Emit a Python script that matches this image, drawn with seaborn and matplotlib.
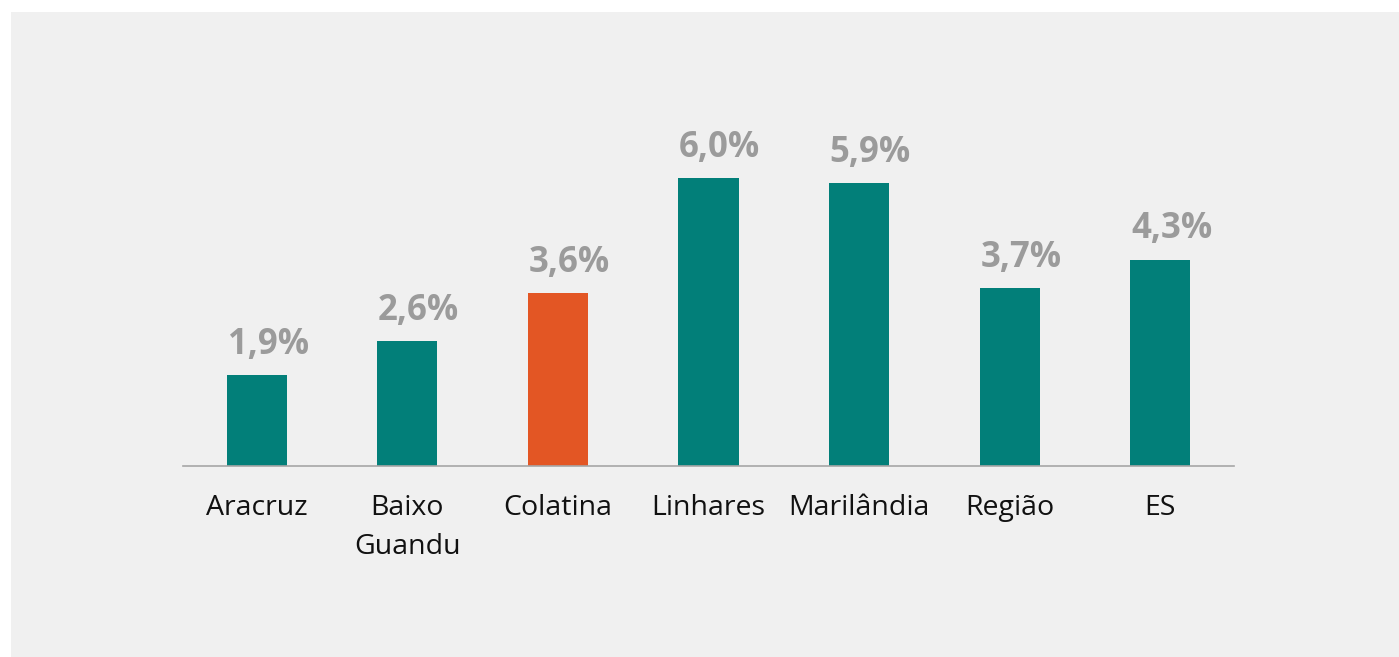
import matplotlib
matplotlib.use('Agg')
import matplotlib.pyplot as plt
import seaborn as sns
import pandas as pd
from matplotlib.patches import Rectangle

# dados
locais = ['Aracruz', 'Baixo\nGuandu', 'Colatina', 'Linhares', 'Marilândia', 'Região', 'ES']
valores = [1.9, 2.6, 3.6, 6.0, 5.9, 3.7, 4.3]
rotulos = ['1,9%', '2,6%', '3,6%', '6,0%', '5,9%', '3,7%', '4,3%']
cores = ['#027F79', '#027F79', '#E35624', '#027F79', '#027F79', '#027F79', '#027F79']

df = pd.DataFrame({'local': locais, 'valor': valores})

sns.set_style('white')
plt.rcParams['font.family'] = ['Open Sans', 'DejaVu Sans']

fig = plt.figure(figsize=(13.99, 6.57), dpi=100)
fig.patch.set_facecolor('white')
# painel cinza de fundo
fig.patches.append(Rectangle((11 / 1399, 0), 1 - 11 / 1399, 1 - 12 / 657,
                             transform=fig.transFigure, facecolor='#F0F0F0',
                             edgecolor='none', zorder=-10))

ax = fig.add_axes([183 / 1399, 191 / 657, 1051 / 1399, 336 / 657])
ax.set_zorder(5)
ax.set_facecolor('none')

sns.barplot(data=df, x='local', y='valor', hue='local', palette=cores,
            width=0.4, legend=False, ax=ax, saturation=1, linewidth=0)

# rótulos levemente deslocados à direita, como no original
for i, (v, r) in enumerate(zip(valores, rotulos)):
    ax.text(i + 0.075, v + 0.63, r, ha='center', va='center', fontsize=25,
            fontweight='bold', color='#9B9B9B')

ax.set_xlim(-0.49, 6.49)
ax.set_ylim(0, 7)
ax.set_xlabel('')
ax.set_ylabel('')
ax.set_yticks([])
ax.tick_params(axis='x', length=0, pad=20, labelsize=20.5, labelcolor='#111111')
for lbl in ax.get_xticklabels():
    lbl.set_linespacing(1.55)
    lbl.set_verticalalignment('top')
for s in ['top', 'right', 'left']:
    ax.spines[s].set_visible(False)
ax.spines['bottom'].set_color('#A6A6A6')
ax.spines['bottom'].set_linewidth(1.2)

fig.savefig('out.png', dpi=100)
